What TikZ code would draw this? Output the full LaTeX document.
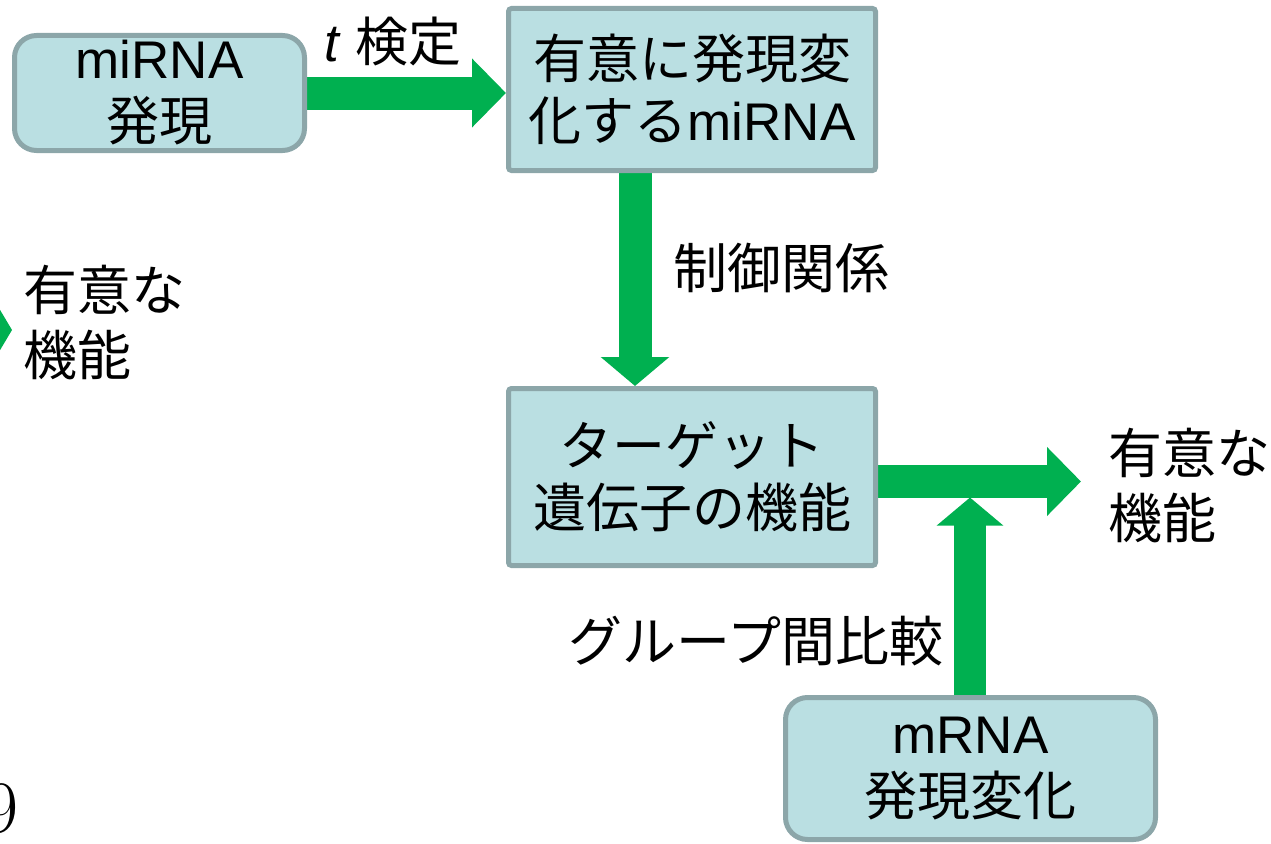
\documentclass[tikz,border=0pt]{standalone}
\usepackage{fontspec}
\setmainfont{Liberation Sans}
\newfontfamily\jp{Noto Sans CJK JP}
\newfontfamily\lmr{Latin Modern Roman}
\usetikzlibrary{arrows.meta}
\pgfdeclarelayer{background}
\pgfsetlayers{background,main}
\definecolor{boxfill}{RGB}{186,223,226}
\definecolor{boxline}{RGB}{140,166,169}
\definecolor{arrowgreen}{RGB}{0,176,80}
\tikzset{
  box/.style={draw=boxline, fill=boxfill, line width=5pt, align=center, inner sep=0pt,
    font=\fontsize{53}{62}\selectfont, text=black},
  roundbox/.style={box, rounded corners=22pt},
  sqbox/.style={box, rounded corners=3pt},
  bigarrow/.style={draw=arrowgreen, line width=33pt, -{Triangle[length=34pt,width=67pt]}},
  uparrow/.style={draw=arrowgreen, line width=32pt, -{Triangle[length=28pt,width=65pt]}},
  downarrow/.style={draw=arrowgreen, line width=33pt, -{Triangle[length=29pt,width=67pt]}},
  lbl/.style={font=\fontsize{53}{65}\selectfont, inner sep=0pt},
  jlbl/.style={font=\jp\fontsize{54}{65}\selectfont, inner sep=0pt, align=left},
}
\begin{document}
\begin{tikzpicture}[x=1pt,y=-1pt]
\useasboundingbox (0,0) rectangle (1271,843);
\clip (0,0) rectangle (1271,843);

% boxes
\node[roundbox, minimum width=290pt, minimum height=115pt] (mi) at (159.5,93) {miRNA\\{\jp 発現}};
\node[sqbox, minimum width=367pt, minimum height=162pt] (sig) at (692,89.5) {{\jp 有意に発現変}\\{\jp 化する}miRNA};
\node[sqbox, minimum width=367pt, minimum height=177pt] (tg) at (692,477) {{\jp ターゲット}\\{\jp 遺伝子の機能}};
\node[roundbox, minimum width=370pt, minimum height=142pt] (mr) at (970.5,768.5) {mRNA\\{\jp 発現変化}};

% labels
\node[lbl] (tt) at (393,41) {\textit{t} {\jp 検定}};
\node[jlbl] (ctl) at (781,268) {制御関係};
\node[jlbl] (grp) at (756,641) {グループ間比較};
\node[jlbl, anchor=west] (fr) at (1108,486) {有意な\\機能};
\node[jlbl, anchor=west] (fl) at (23,323) {有意な\\機能};
\node[inner sep=0pt, anchor=base east, font=\lmr\fontsize{74}{74}\selectfont] (pg) at (19,832) {9};

% arrows
\coordinate (t3) at (1081,481.5);
\coordinate (t4) at (970,497.5);
\coordinate (lt) at (12,330);
\begin{pgfonlayer}{background}
\draw[bigarrow] (mi.east) -- (mi.east -| sig.west);
\draw[downarrow] ([xshift=-57pt]sig.south) -- ([xshift=-57pt]tg.north);
\draw[bigarrow] (tg.east |- t3) -- (t3);
\draw[uparrow] (mr.north -| t4) -- (t4);
\fill[arrowgreen] (lt) -- ++(-22,-37) -- ++(0,74) -- cycle;
\end{pgfonlayer}
\end{tikzpicture}
\end{document}
